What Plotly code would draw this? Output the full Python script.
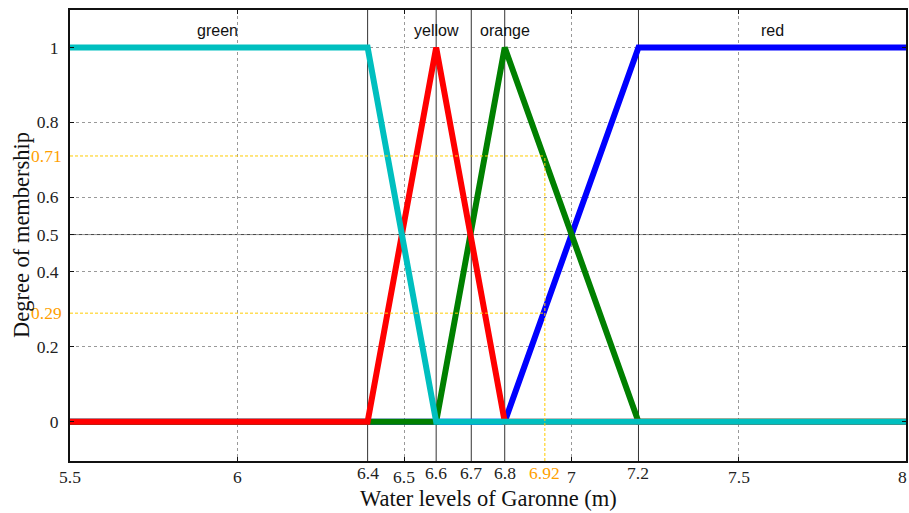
import plotly.graph_objects as go

# ---- data ----
green_x = [5.5, 6.39, 6.595, 8.0]
green_y = [1, 1, 0, 0]
yellow_x = [5.5, 6.39, 6.595, 6.8, 8.0]
yellow_y = [0, 0, 1, 0, 0]
orange_x = [5.5, 6.595, 6.8, 7.2, 8.0]
orange_y = [0, 0, 1, 0, 0]
red_x = [5.5, 6.8, 7.2, 8.0]
red_y = [0, 0, 1, 1]

set_names = ["green", "yellow", "orange", "red"]
set_label_x = [5.94, 6.595, 6.8, 7.6]
set_label_y = 1.046

x_ticks = [5.5, 6, 6.5, 7, 7.5, 8]
x_tick_text = ["5.5", "6", "6.5", "7", "7.5", "8"]
y_ticks = [0, 0.2, 0.4, 0.5, 0.6, 0.8, 1]
y_tick_text = ["0", "0.2", "0.4", "0.5", "0.6", "0.8", "1"]

break_x = [6.39, 6.595, 6.7, 6.8, 7.2]
break_text = ["6.4", "6.6", "6.7", "6.8", "7.2"]

level_x = 6.92
level_x_text = "6.92"
level_y = [0.71, 0.29]
level_y_text = ["0.71", "0.29"]

SERIF = "Liberation Serif, Times New Roman, serif"
SANS = "Liberation Sans, Arial, sans-serif"
ORANGE_TXT = "#FF9F00"
GOLD = "#FFCC00"
TICK_FONT = dict(family=SERIF, size=17.5, color="#222222")

fig = go.Figure()
for xs, ys, col in [(red_x, red_y, "#0000FF"),
                    (orange_x, orange_y, "#008000"),
                    (yellow_x, yellow_y, "#FF0000"),
                    (green_x, green_y, "#00BFBF")]:
    fig.add_trace(go.Scatter(x=xs, y=ys, mode="lines",
                             line=dict(color=col, width=6),
                             showlegend=False, hoverinfo="skip"))

shapes = []
for bx in break_x:
    shapes.append(dict(type="line", xref="x", yref="paper", x0=bx, x1=bx,
                       y0=0, y1=1, layer="below",
                       line=dict(color="#333333", width=1)))
shapes.append(dict(type="line", xref="paper", yref="y", x0=0, x1=1,
                   y0=0.5, y1=0.5, layer="below",
                   line=dict(color="#444444", width=1)))
# yellow dashed guide lines
shapes.append(dict(type="line", xref="x", yref="paper", x0=level_x, x1=level_x,
                   y0=0, y1=(level_y[0] + 0.105) / 1.205, layer="above",
                   line=dict(color=GOLD, width=1, dash="3px,2px")))
for ly in level_y:
    shapes.append(dict(type="line", xref="x", yref="y", x0=5.5, x1=level_x,
                       y0=ly, y1=ly, layer="above",
                       line=dict(color=GOLD, width=1, dash="3px,2px")))

annotations = []
for name, lx in zip(set_names, set_label_x):
    annotations.append(dict(x=lx, y=set_label_y, xref="x", yref="y",
                            text=name, showarrow=False,
                            font=dict(family=SANS, size=16, color="#111111")))
# regular x tick labels
for i, (tx, tt) in enumerate(zip(x_ticks, x_tick_text)):
    last = i == len(x_ticks) - 1
    annotations.append(dict(x=tx, y=-0.0355, xref="x", yref="paper",
                            text=tt, showarrow=False, yanchor="middle",
                            xanchor="right" if last else "center",
                            xshift=3 if last else 0,
                            font=TICK_FONT))
# breakpoint labels
for bx, bt in zip(break_x, break_text):
    annotations.append(dict(x=bx, y=-0.0266, xref="x", yref="paper",
                            text=bt, showarrow=False, yanchor="middle",
                            font=TICK_FONT))
annotations.append(dict(x=level_x, y=-0.0266, xref="x", yref="paper",
                        text=level_x_text, showarrow=False, yanchor="middle",
                        font=dict(family=SERIF, size=17.5, color=ORANGE_TXT)))
for ly, lt in zip(level_y, level_y_text):
    annotations.append(dict(x=0, y=ly, xref="paper", yref="y", text=lt,
                            showarrow=False, xanchor="right", xshift=-6,
                            font=dict(family=SERIF, size=17.5, color=ORANGE_TXT)))
annotations.append(dict(x=0.5, y=-0.084, xref="paper", yref="paper",
                        text="Water levels of Garonne (m)", showarrow=False,
                        yanchor="middle",
                        font=dict(family=SERIF, size=22.5, color="#111111")))
annotations.append(dict(x=-0.0586, y=0.501, xref="paper", yref="paper",
                        text="Degree of membership", showarrow=False,
                        textangle=-90, xanchor="center", yanchor="middle",
                        font=dict(family=SERIF, size=22.5, color="#111111")))

fig.update_layout(
    width=909, height=513,
    margin=dict(l=70, r=3, t=10, b=52),
    paper_bgcolor="white", plot_bgcolor="white",
    shapes=shapes, annotations=annotations,
    xaxis=dict(range=[5.5, 8], tickvals=x_ticks, showticklabels=False,
               showgrid=True, gridcolor="#999999", griddash="dot", gridwidth=1,
               zeroline=False, showline=True, linecolor="#111111", linewidth=2,
               mirror="ticks", ticks="inside", ticklen=4, tickcolor="#111111",
               automargin=False),
    yaxis=dict(range=[-0.105, 1.1], tickvals=y_ticks, ticktext=y_tick_text,
               showgrid=True, gridcolor="#999999", griddash="dot", gridwidth=1,
               zeroline=False, showline=True, linecolor="#111111", linewidth=2,
               mirror="ticks", ticks="inside", ticklen=4, tickcolor="#111111",
               ticklabelstandoff=6, automargin=False,
               tickfont=TICK_FONT),
)

fig.write_html("out.html", config={"displayModeBar": False},
               post_script="document.body.style.margin='0';document.body.style.overflow='hidden';")
